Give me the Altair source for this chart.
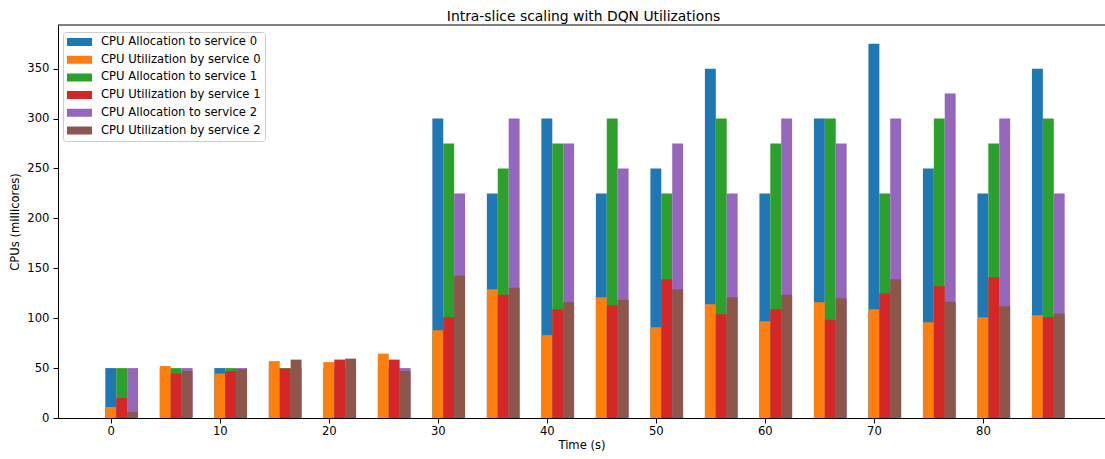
import altair as alt
import pandas as pd

# Sampling instants (seconds) of the intra-slice scaling run
times = [0, 5, 10, 15, 20, 25, 30, 35, 40, 45, 50, 55, 60, 65, 70, 75, 80, 85]

# CPU allocated to / used by each service, in millicores
alloc_s0 = [50, 50, 50, 50, 50, 50, 300, 225, 300, 225, 250, 350, 225, 300, 375, 250, 225, 350]
util_s0 = [11, 52, 44.5, 57, 56, 64.5, 88, 129, 83, 121, 91, 114, 97, 116, 109, 96, 101, 103]
alloc_s1 = [50, 50, 50, 50, 50, 50, 275, 250, 275, 300, 225, 300, 275, 300, 225, 300, 275, 300]
util_s1 = [20, 44.5, 47, 49.5, 58.5, 58.5, 101, 123.5, 109, 113, 139, 104, 109, 98.5, 125, 132, 141, 101]
alloc_s2 = [50, 50, 50, 50, 50, 50, 225, 300, 275, 250, 275, 225, 300, 275, 300, 325, 300, 225]
util_s2 = [6, 47, 49, 58.5, 59.5, 47, 142.5, 130.5, 116, 118.5, 129, 121, 123.5, 120, 139, 116.5, 112, 104.5]

series_names = [
    "CPU Allocation to service 0",
    "CPU Utilization by service 0",
    "CPU Allocation to service 1",
    "CPU Utilization by service 1",
    "CPU Allocation to service 2",
    "CPU Utilization by service 2",
]
series_colors = ["#1f77b4", "#ff7f0e", "#2ca02c", "#d62728", "#9467bd", "#8c564b"]

# (name, values, slot within the group, kind)
series = [
    (series_names[0], alloc_s0, 0, "alloc"),
    (series_names[1], util_s0, 0, "util"),
    (series_names[2], alloc_s1, 1, "alloc"),
    (series_names[3], util_s1, 1, "util"),
    (series_names[4], alloc_s2, 2, "alloc"),
    (series_names[5], util_s2, 2, "util"),
]

rows = []
for name, values, slot, kind in series:
    for t, v in zip(times, values):
        rows.append({"time": t, "value": v, "series": name, "slot": slot, "kind": kind})
df = pd.DataFrame(rows)

PLOT_W = 1047
PLOT_H = 393
FONT = "DejaVu Sans"
TEXT_SIZE = 11.6

legend_shape = "M-1,-0.32H1V0.32H-1Z"

color = alt.Color(
    "series:N",
    scale=alt.Scale(domain=series_names, range=series_colors),
    sort=series_names,
    legend=alt.Legend(
        title=None,
        orient="none",
        legendX=5,
        legendY=7,
        symbolType=legend_shape,
        symbolSize=625,
        symbolStrokeWidth=0,
        symbolOpacity=1,
        clipHeight=12,
        rowPadding=5.7,
        labelOffset=9,
        labelFontSize=TEXT_SIZE,
        labelFont=FONT,
        labelColor="black",
        labelLimit=400,
        padding=4,
        strokeColor="#cccccc",
        fillColor="#ffffff",
        cornerRadius=3,
    ),
)

x_enc = alt.X(
    "x0:Q",
    scale=alt.Scale(domain=[-4.84, 91.2], nice=False, zero=False),
    axis=alt.Axis(
        values=[0, 10, 20, 30, 40, 50, 60, 70, 80],
        title="Time (s)",
        titlePadding=3,
        labelPadding=2,
    ),
)
y_enc = alt.Y(
    "value:Q",
    scale=alt.Scale(domain=[0, 393.75], nice=False),
    axis=alt.Axis(
        values=[0, 50, 100, 150, 200, 250, 300, 350],
        title="CPUs (millicores)",
        titlePadding=6,
        labelPadding=4,
    ),
)

base = alt.Chart(df).transform_calculate(
    x0="datum.time + datum.slot - 0.5",
    x1="datum.time + datum.slot + 0.5",
)

alloc_bars = base.transform_filter("datum.kind == 'alloc'").mark_rect().encode(
    x=x_enc, x2="x1:Q", y=y_enc, y2=alt.datum(0), color=color
)
util_bars = base.transform_filter("datum.kind == 'util'").mark_rect().encode(
    x=x_enc, x2="x1:Q", y=y_enc, y2=alt.datum(0), color=color
)

# upper frame line of the axes box
top_spine = alt.Chart(pd.DataFrame({"k": [0]})).mark_rule(color="black", strokeWidth=1).encode(
    x=alt.value(0), x2=alt.value(PLOT_W), y=alt.value(0)
)

chart = (
    alt.layer(alloc_bars, util_bars, top_spine)
    .properties(
        width=PLOT_W,
        height=PLOT_H,
        title=alt.TitleParams(
            "Intra-slice scaling with DQN Utilizations",
            fontSize=13.9,
            font=FONT,
            fontWeight="normal",
            color="black",
            anchor="middle",
            frame="group",
            baseline="alphabetic",
            offset=5.5,
            dx=2,
            dy=16,
        ),
        autosize=alt.AutoSizeParams(type="none"),
        padding={"left": 58, "top": 25, "right": 0, "bottom": 41},
        background="white",
    )
    .configure_view(stroke=None)
    .configure_axis(
        grid=False,
        domainColor="black",
        domainWidth=1,
        tickColor="black",
        tickSize=5,
        tickWidth=1,
        labelFont=FONT,
        labelFontSize=TEXT_SIZE,
        labelColor="black",
        titleFont=FONT,
        titleFontSize=TEXT_SIZE,
        titleFontWeight="normal",
        titleColor="black",
    )
)

chart.save("out.html", embed_options={"renderer": "svg", "actions": False})
